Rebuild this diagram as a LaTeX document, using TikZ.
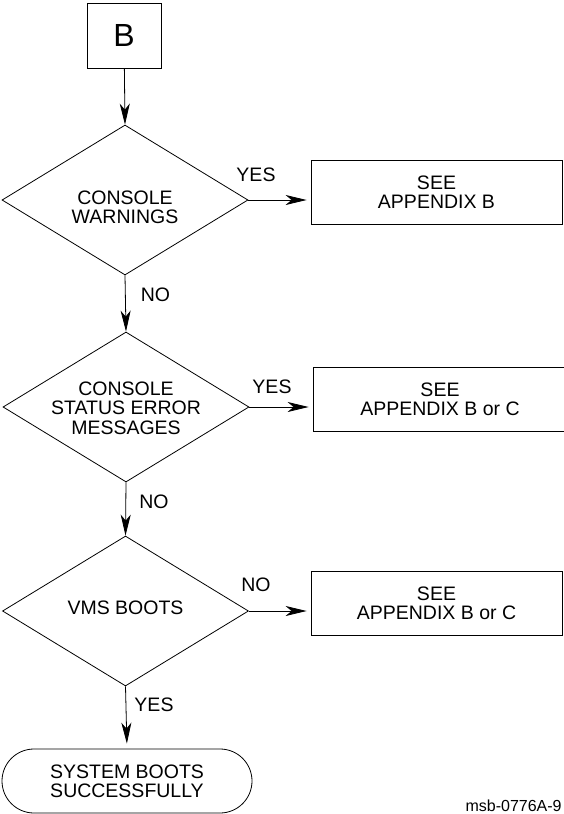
\documentclass[tikz,border=0pt]{standalone}
\usepackage{fontspec}
\setmainfont{Liberation Sans}
\usetikzlibrary{shapes.geometric,arrows.meta}

\tikzset{
  txt/.style={font=\fontsize{19.5}{19.3}\selectfont, align=center, inner sep=0pt},
  box/.style={draw, txt, minimum width=251pt, minimum height=64pt},
  decision/.style={draw, diamond, inner sep=0pt, minimum width=246pt, minimum height=150pt},
  terminal/.style={draw, txt, rounded corners=32pt, minimum width=250pt, minimum height=64pt},
  lbl/.style={txt}
}

\begin{document}
\begin{tikzpicture}[x=1pt, y=-1pt, line width=0.8pt,
    >={Stealth[length=21pt, width=10pt, inset=6pt]}]
  \useasboundingbox (0,0) rectangle (563,814);
  % entry point
  \node[box, minimum width=74pt, minimum height=65pt,
        font=\fontsize{32}{32}\selectfont] (entry) at (124,35.5) {B};
  % first check
  \node[decision] (warn) at (125,200) {};
  \node[txt] (warntxt) at (125,207.5) {CONSOLE\\WARNINGS};
  \node[box] (appb) at (436.5,192) {SEE\\APPENDIX B};
  % second check
  \node[decision] (status) at (126,407) {};
  \node[txt] (statustxt) at (126,408) {CONSOLE\\STATUS ERROR\\MESSAGES};
  \node[box, minimum width=254pt] (appbc) at (440,399) {SEE\\APPENDIX B or C};
  % third check
  \node[decision] (vms) at (125.5,611) {};
  \node[txt] (vmstxt) at (125.5,608) {VMS BOOTS};
  \node[box] (appbc2) at (436.5,603) {SEE\\APPENDIX B or C};
  % end
  \node[terminal] (done) at (127,781) {SYSTEM BOOTS\\SUCCESSFULLY};

  % flow lines
  \draw[->] (entry) -- (warn.north);
  \draw[->] (warn.south) -- (status.north);
  \draw[->] (status.south) -- (vms.north);
  \draw[->, shorten >=5pt] (vms.south) -- (done.north);
  \draw[->, shorten >=4pt] (warn.east) -- (warn.east -| appb.west);
  \draw[->, shorten >=4pt] (status.east) -- (status.east -| appbc.west);
  \draw[->, shorten >=4pt] (vms.east) -- (vms.east -| appbc2.west);

  % branch labels
  \node[lbl] (yes1) at (256,175) {YES};
  \node[lbl] (no1) at (155.5,295) {NO};
  \node[lbl] (yes2) at (272,387) {YES};
  \node[lbl] (no2) at (154,502) {NO};
  \node[lbl] (no3) at (256,585) {NO};
  \node[lbl] (yes3) at (154,705) {YES};

  % figure id
  \node[anchor=base east, inner sep=0pt, font=\fontsize{16}{16}\selectfont]
    (figid) at (562,811) {msb-0776A-9};
\end{tikzpicture}
\end{document}
